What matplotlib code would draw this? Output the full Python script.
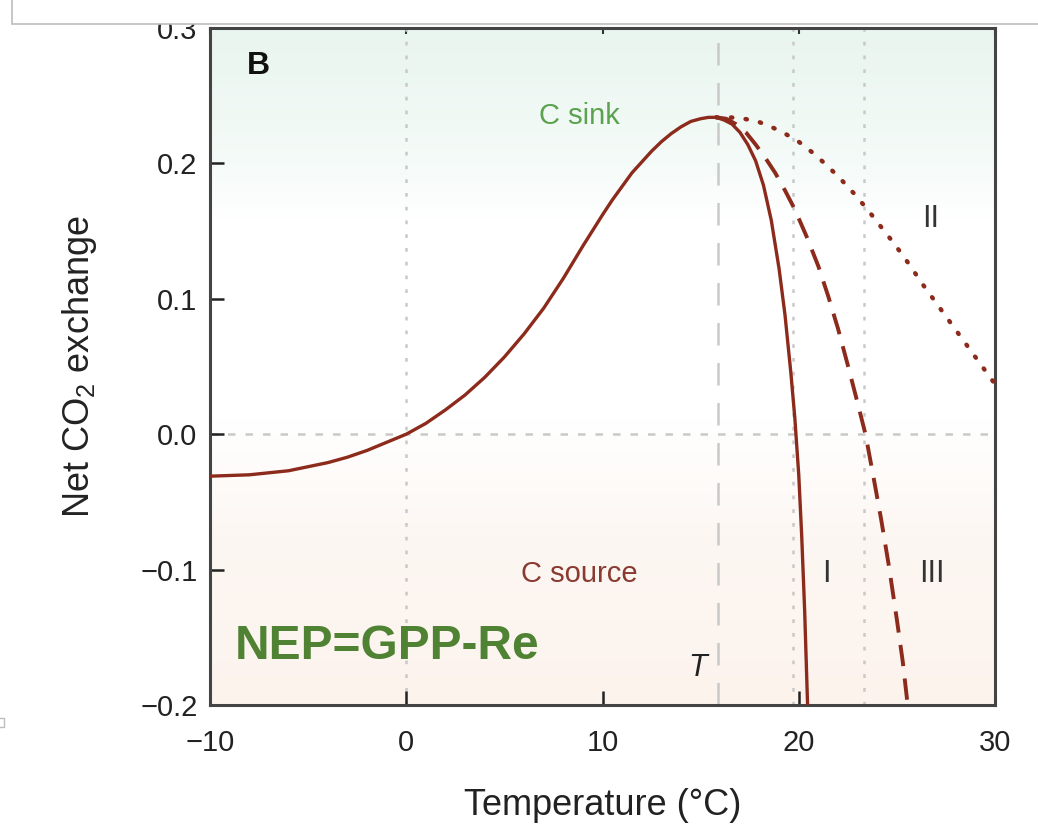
import numpy as np
import matplotlib
matplotlib.use("Agg")
import matplotlib.pyplot as plt
from matplotlib.colors import LinearSegmentedColormap
from matplotlib.patches import Rectangle

plt.rcParams['font.family'] = ['Liberation Sans', 'DejaVu Sans']
plt.rcParams['mathtext.fontset'] = 'custom'
plt.rcParams['mathtext.rm'] = 'Liberation Sans'
plt.rcParams['mathtext.it'] = 'Liberation Sans:italic'

# ---- data ----
main_t = [-10, -8, -6, -5, -4, -3, -2, -1, 0, 1, 2, 3, 4, 5, 6, 7, 8, 9, 10,
          10.5, 11, 11.5, 12, 12.5, 13, 13.5, 14, 14.5, 15, 15.4, 15.8]
main_y = [-0.031, -0.030, -0.027, -0.024, -0.021, -0.017, -0.012, -0.006, 0.000,
          0.008, 0.018, 0.029, 0.042, 0.057, 0.074, 0.093, 0.115, 0.139, 0.162,
          0.173, 0.183, 0.193, 0.201, 0.209, 0.216, 0.222, 0.227, 0.231, 0.233,
          0.234, 0.234]

curve1_t = [15.8, 16.2, 16.6, 17.0, 17.4, 17.8, 18.2, 18.6, 19.0, 19.3, 19.6,
            19.8, 20.0, 20.15, 20.3, 20.45]
curve1_y = [0.234, 0.232, 0.229, 0.223, 0.214, 0.202, 0.184, 0.158, 0.122, 0.088,
            0.045, 0.012, -0.030, -0.075, -0.130, -0.200]

curve3_t = [15.8, 16.3, 16.8, 17.3, 17.8, 18.3, 18.8, 19.3, 19.8, 20.4, 21.0,
            21.5, 22.0, 22.5, 23.0, 23.4, 23.8, 24.2, 24.6, 25.0, 25.3, 25.55]
curve3_y = [0.234, 0.233, 0.229, 0.223, 0.214, 0.204, 0.193, 0.180, 0.166, 0.146,
            0.124, 0.102, 0.078, 0.051, 0.023, 0.000, -0.031, -0.063, -0.098,
            -0.137, -0.168, -0.200]

curve2_t = [15.8, 16.5, 17.2, 17.9, 18.6, 19.3, 20.0, 20.7, 21.4, 22.1, 22.8,
            23.5, 24.2, 24.9, 25.6, 26.3, 27.0, 27.7, 28.4, 29.1, 29.8, 30.0]
curve2_y = [0.234, 0.234, 0.233, 0.231, 0.227, 0.222, 0.216, 0.208, 0.199, 0.189,
            0.178, 0.166, 0.153, 0.140, 0.126, 0.111, 0.097, 0.083, 0.069, 0.055,
            0.041, 0.037]

x_ticks = [-10, 0, 10, 20, 30]
x_ticklabels = ['\u221210', '0', '10', '20', '30']
y_ticks = [-0.2, -0.1, 0.0, 0.1, 0.2, 0.3]
y_ticklabels = ['\u22120.2', '\u22120.1', '0.0', '0.1', '0.2', '0.3']
t_opt = 15.9
t_dotted = [0, 19.7, 23.3]

# ---- figure ----
fig = plt.figure(figsize=(10.38, 8.35), dpi=100)
ax = fig.add_axes([210/1038, 1-705/835, 785/1038, 677/835])
ax.set_xlim(-10, 30)
ax.set_ylim(-0.2, 0.3)

# background gradient
cmap = LinearSegmentedColormap.from_list('bg', [
    (0.00, '#fcf3ed'), (0.25, '#fdf7f3'), (0.33, '#fefbf9'), (0.42, '#ffffff'),
    (0.72, '#ffffff'), (0.80, '#f5fbf8'), (1.00, '#e9f5ef')])
grad = np.linspace(0, 1, 256).reshape(-1, 1)
ax.imshow(grad, cmap=cmap, extent=[-10, 30, -0.2, 0.3], origin='lower',
          aspect='auto', zorder=0)

ref = '#c9c9c9'
for t in t_dotted:
    ax.axvline(t, color=ref, lw=1.8, ls=(0, (1.5, 4)), zorder=1)
ax.axhline(0, color=ref, lw=1.8, ls=(0, (3, 4)), zorder=1)
ax.axvline(t_opt, color=ref, lw=1.8, ls=(0, (9, 7)), zorder=1)

lc = '#8c2a1c'
ax.plot(main_t, main_y, color=lc, lw=2.4, zorder=3, solid_joinstyle='round')
ax.plot(curve1_t, curve1_y, color=lc, lw=2.4, zorder=3, solid_joinstyle='round')
ax.plot(curve3_t, curve3_y, color=lc, lw=2.8, ls=(0, (5.5, 3.2)), zorder=3)
ax.plot(curve2_t, curve2_y, color=lc, lw=3.2, ls=(0, (0.3, 3.0)),
        dash_capstyle='round', zorder=3)

# texts
ax.text(-7.55, 0.272, 'B', fontsize=23, fontweight='bold', color='#111111',
        ha='center', va='center')
ax.text(8.8, 0.235, 'C sink', fontsize=21, color='#5aa24e', ha='center', va='center')
ax.text(8.8, -0.103, 'C source', fontsize=21, color='#8a3a30', ha='center', va='center')
ax.text(-8.72, -0.157, 'NEP=GPP-Re', fontsize=34.5, fontweight='bold',
        color='#4f8232', ha='left', va='center')
ax.text(14.85, -0.173, 'T', fontsize=22, style='italic', color='#222222',
        ha='center', va='center')
ax.text(21.4, -0.103, 'I', fontsize=22, color='#333333', ha='center', va='center')
ax.text(26.8, -0.103, 'III', fontsize=22, color='#333333', ha='center', va='center')
ax.text(26.7, 0.159, 'II', fontsize=22, color='#333333', ha='center', va='center')

# axes styling
ax.set_xticks(x_ticks)
ax.set_xticklabels(x_ticklabels)
ax.set_yticks(y_ticks)
ax.set_yticklabels(y_ticklabels)
ax.tick_params(direction='in', length=10, width=1.8, color='#222222',
               labelsize=21, labelcolor='#222222', top=False, right=False)
ax.tick_params(axis='x', pad=17)
ax.tick_params(axis='y', pad=9)
# short ticks on top spine
ax_top = ax.secondary_xaxis('top')
ax_top.set_xticks(x_ticks)
ax_top.tick_params(direction='in', length=4, width=1.5, color='#333333',
                   labelsize=0, labeltop=False)
ax_top.spines['top'].set_visible(False)
for s in ax.spines.values():
    s.set_linewidth(2.2)
    s.set_color('#444444')

ax.text(0.5, -0.148, 'Temperature (\u00b0C)', transform=ax.transAxes,
        fontsize=26, ha='center', va='center', color='#222222')
ax.text(-0.166, 0.5, 'Net CO$_2$ exchange', transform=ax.transAxes,
        fontsize=26, ha='center', va='center', rotation=90, color='#222222')

# page overlay at top (covers the top tick label)
fig.patches.append(Rectangle((12/1038, 1-24/835), 1.2, 0.2,
                             transform=fig.transFigure, facecolor='white',
                             edgecolor='#bdbdbd', lw=1.2, zorder=10))
fig.patches.append(Rectangle((-2/1038, 1-727/835), 6/1038, 9/835,
                             transform=fig.transFigure, facecolor='white',
                             edgecolor='#bdbdbd', lw=1.0, zorder=10))

fig.savefig('out.png', dpi=100)
